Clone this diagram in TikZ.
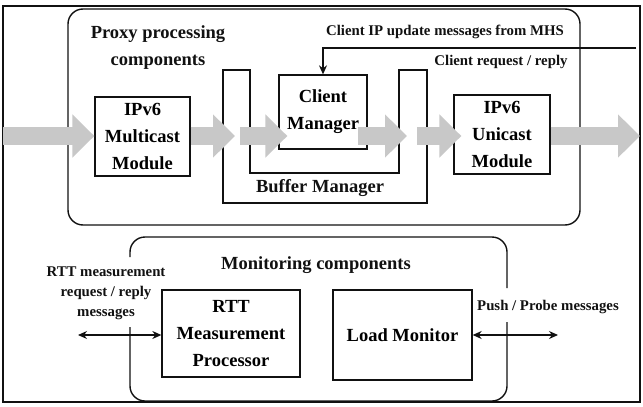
\documentclass[tikz,border=0pt]{standalone}
\usepackage{fontspec}
\setmainfont{Liberation Serif}
\usetikzlibrary{arrows.meta}
\definecolor{PMGray}{HTML}{C8C8C8}
\definecolor{PMInk}{HTML}{111111}
\tikzset{
  box/.style={draw=PMInk, line width=1.3pt, align=center, inner sep=0pt, font=\bfseries\fontsize{18.5}{27}\selectfont},
  ttl/.style={PMInk, align=center, inner sep=0pt, font=\bfseries\fontsize{18.5}{27}\selectfont},
  lbl/.style={PMInk, align=center, inner sep=0pt, font=\bfseries\fontsize{14.8}{20}\selectfont},
  flow/.style={PMGray, line width=18pt, -{Triangle[length=22pt,width=42pt]}},
  msg/.style={PMInk, line width=1.2pt, {Stealth[length=9pt,width=8pt]}-{Stealth[length=9pt,width=8pt]}}
}

\begin{document}
\begin{tikzpicture}[x=1pt,y=-1pt]
  \useasboundingbox (0,0) rectangle (643,407);
  \draw[PMInk, line width=1.6pt] (3,6) rectangle (640,402);
  \draw[PMInk, line width=1.4pt, rounded corners=15pt] (68,9) rectangle (580,225);
  \draw[PMInk, line width=1.4pt, rounded corners=15pt] (130,257) -- (130,237) -- (507,237) -- (507,288);
  \draw[PMInk, line width=1.4pt, rounded corners=15pt] (507,322) -- (507,401) -- (130,401) -- (130,327);

  \node[ttl] (proxyttl) at (158,48) {Proxy processing\\components};
  \node[ttl] (monttl) at (316,265) {Monitoring components};

  \draw[PMInk, line width=1.3pt] (223,70) -- (223,203) -- (427,203) -- (427,70) -- (399,70) -- (399,173) -- (250,173) -- (250,70) -- cycle;
  \node[ttl] (bufname) at (320,188) {Buffer Manager};

  \node[box, minimum width=95pt, minimum height=79pt] (mcast) at (142.5,136.5) {IPv6\\Multicast\\Module};
  \node[box, minimum width=88pt, minimum height=74pt] (client) at (323,112) {Client\\Manager};
  \node[box, minimum width=96pt, minimum height=79pt] (ucast) at (502,134.5) {IPv6\\Unicast\\Module};
  \node[box, minimum width=138pt, minimum height=87pt] (rtt) at (231,333.5) {RTT\\Measurement\\Processor};
  \node[box, minimum width=139pt, minimum height=90pt] (load) at (402.5,335) {Load Monitor};

  \coordinate (flowin) at (3,136);
  \coordinate (flowout) at (640,136);
  \coordinate (bufinA) at (235,136);
  \coordinate (bufoutA) at (240,136);
  \coordinate (bufinB) at (407,136);
  \coordinate (bufoutB) at (417,136);
  \draw[flow] (flowin) -- (flowin -| mcast.west);
  \draw[flow] (mcast.east |- flowin) -- (bufinA);
  \draw[flow] (bufoutA) -- ([xshift=9pt]client.west |- flowin);
  \draw[flow] ([xshift=-10pt]client.east |- flowin) -- (bufinB);
  \draw[flow] (bufoutB) -- ([xshift=8pt]ucast.west |- flowin);
  \draw[flow] (ucast.east |- flowin) -- (flowout);

  \node[lbl] (mhsmsg) at (445,32) {Client IP update messages from MHS};
  \node[lbl] (reqmsg) at (501,62) {Client request / reply};
  \coordinate (mhsin) at (636,48);
  \draw[PMInk, line width=1.2pt, -{Stealth[length=9pt,width=8pt]}] (mhsin) -- (mhsin -| client.north) -- (client.north);

  \node[lbl] (rttmsg) at (106,293) {RTT measurement\\request / reply\\messages};
  \node[lbl] (pushmsg) at (548,307) {Push / Probe messages};
  \coordinate (rttout) at (78,335);
  \coordinate (pushout) at (558,335);
  \draw[msg] (rttout) -- (rttout -| rtt.west);
  \draw[msg] (load.east) -- (pushout);
\end{tikzpicture}
\end{document}
